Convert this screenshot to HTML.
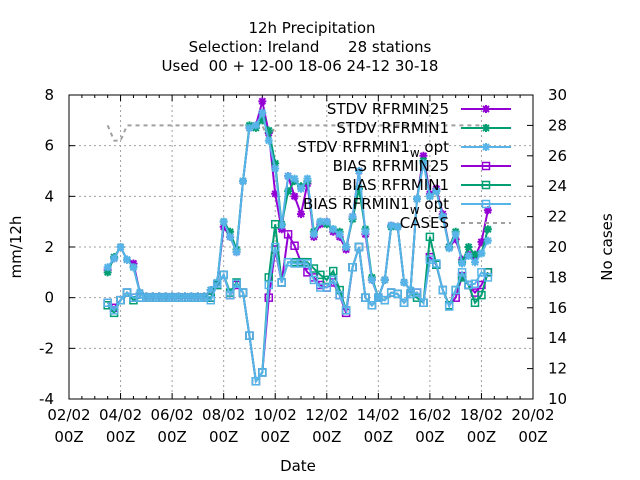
<!DOCTYPE html>
<html><head><meta charset="utf-8"><style>
html,body{margin:0;padding:0;background:#fff;}
svg{display:block;font-family:"DejaVu Sans","Liberation Sans",sans-serif;}
</style></head><body>
<svg id="chart" width="640" height="480" viewBox="0 0 640 480" xmlns="http://www.w3.org/2000/svg">
<rect width="640" height="480" fill="#fff"/>
<g font-size="15" text-anchor="middle" fill="#000">
<text x="312" y="33">12h Precipitation</text>
<text x="310" y="52" xml:space="preserve">Selection: Ireland      28 stations</text>
<text x="300" y="71" xml:space="preserve">Used  00 + 12-00 18-06 24-12 30-18</text>
</g>
<g id="grid"></g>
<g id="axes"></g>
<g id="series"></g>
<g id="legend"></g>
<text x="21" y="247" font-size="15" text-anchor="middle" transform="rotate(-90 21 247)">mm/12h</text>
<text x="612" y="247" font-size="15" text-anchor="middle" transform="rotate(-90 612 247)">No cases</text>
<text x="298" y="471" font-size="15" text-anchor="middle">Date</text>
</svg>
<script>
const startDay = 1.5, stepDay = 0.25;
const xTickLabels = ["02/02","04/02","06/02","08/02","10/02","12/02","14/02","16/02","18/02","20/02"];
const yTicks = [-4,-2,0,2,4,6,8];
const y2Ticks = [10,12,14,16,18,20,22,24,26,28,30];
const stdvRfrmin25 = [1.1,1.55,2.0,1.5,1.35,0.2,0.05,0.05,0.05,0.05,0.05,0.05,0.05,0.05,0.05,0.05,0.3,0.6,2.8,2.4,1.8,4.6,6.7,6.8,7.75,6.5,4.1,2.7,4.8,4.0,3.3,4.5,2.4,2.9,3.0,2.6,2.4,1.9,3.2,5.0,2.5,0.7,0.0,0.7,2.85,2.8,0.6,0.3,3.9,5.6,4.1,4.3,3.3,2.0,2.3,1.5,1.7,1.6,2.2,3.45];
const stdvRfrmin1 = [1.0,1.6,2.0,1.5,1.2,0.2,0.05,0.05,0.05,0.05,0.05,0.05,0.05,0.05,0.05,0.05,0.3,0.6,3.0,2.6,1.9,4.6,6.8,6.7,7.0,6.6,5.3,2.9,4.2,4.6,4.4,4.6,2.6,3.0,2.9,2.7,2.6,2.0,3.1,4.3,2.7,0.8,0.0,0.7,2.8,2.8,0.6,0.3,3.9,5.4,4.0,4.2,3.2,2.0,2.6,1.4,2.0,1.7,1.75,2.7];
const stdvRfrmin1W = [1.2,1.55,2.0,1.5,1.2,0.2,0.05,0.05,0.05,0.05,0.05,0.05,0.05,0.05,0.05,0.05,0.3,0.6,3.0,2.4,1.8,4.6,6.7,6.8,7.3,6.2,5.1,2.85,4.8,4.7,4.3,4.7,2.5,3.0,3.0,2.7,2.5,2.0,3.2,5.0,2.6,0.7,0.0,0.7,2.85,2.8,0.6,0.3,3.9,5.3,4.0,4.2,3.2,1.95,2.5,1.35,1.65,1.4,1.75,2.25];
const biasRfrmin25 = [-0.2,-0.4,-0.1,0.2,0.0,0.0,0.0,0.0,0.0,0.0,0.0,0.0,0.0,0.0,0.0,0.0,0.0,0.5,0.9,0.1,0.5,0.2,-1.5,-3.3,-2.95,0.0,1.9,0.6,2.5,2.05,1.4,1.0,0.8,0.5,0.4,0.6,0.1,-0.6,1.2,2.0,0.0,-0.3,0.0,-0.1,0.2,0.15,-0.2,0.15,0.2,-0.2,1.6,1.3,0.3,-0.3,0.0,0.85,0.5,0.2,0.5,1.0];
const biasRfrmin1 = [-0.3,-0.6,-0.1,0.2,-0.1,0.0,0.0,0.0,0.0,0.0,0.0,0.0,0.0,0.0,0.0,0.0,0.0,0.5,0.9,0.2,0.6,0.2,-1.5,-3.3,-2.95,0.8,2.9,0.6,1.4,1.4,1.4,1.4,1.15,0.9,0.7,1.05,0.3,-0.5,1.2,2.0,0.0,-0.3,0.0,-0.1,0.2,0.15,-0.2,0.15,0.0,-0.2,2.4,1.3,0.3,-0.3,0.3,0.8,0.5,-0.2,0.1,1.0];
const biasRfrmin1W = [-0.2,-0.5,-0.1,0.2,0.0,0.0,0.0,0.0,0.0,0.0,0.0,0.0,0.0,0.0,0.0,0.0,-0.1,0.55,0.9,0.1,0.55,0.2,-1.5,-3.3,-2.95,0.5,2.0,0.6,1.4,1.35,1.35,1.35,0.7,0.4,0.4,0.7,0.1,-0.5,1.2,2.0,0.0,-0.3,0.0,-0.1,0.2,0.15,-0.2,0.15,0.2,-0.2,1.5,1.35,0.3,-0.35,0.3,1.0,0.5,0.55,1.0,0.8];
const cases = [28,27,27,28,28,28,28,28,28,28,28,28,28,28,28,28,28,28,28,28,28,28,28,28,28,27,28,28,28,28,28,28,28,28,28,28,28,28,28,28,28,28,28,28,28,28,28,28,28,28,28,28,28,28,28,28,28,28,28,28];

const NS = "http://www.w3.org/2000/svg";
const L = 69, R = 533, T = 95, B = 399;
const xScale = d => L + (R - L) * d / 18;
const yScale = v => T + (B - T) * (8 - v) / 12;
const y2Scale = v => T + (B - T) * (30 - v) / 20;
function mk(tag, attrs, parent) {
  const e = document.createElementNS(NS, tag);
  for (const k in attrs) e.setAttribute(k, attrs[k]);
  parent.appendChild(e);
  return e;
}
const grid = document.getElementById('grid');
const axes = document.getElementById('axes');
const series = document.getElementById('series');
const legend = document.getElementById('legend');

xTickLabels.forEach((lab, i) => {
  const x = xScale(i * 2);
  if (i > 0 && i < xTickLabels.length - 1) {
    const g = mk('line', {x1: x, x2: x, y1: T, y2: B, stroke: '#a0a0a0', 'stroke-width': 1, 'stroke-dasharray': '2,3'}, grid);
    
    
  }
  const t = mk('text', {x: x, y: 420, 'font-size': 15, 'text-anchor': 'middle'}, axes);
  
  
  t.textContent = lab;
  const t2 = mk('text', {x: x, y: 442, 'font-size': 15, 'text-anchor': 'middle'}, axes);
  
  
  t2.textContent = '00Z';
});
for (let d = 0; d <= 18; d += 0.5) {
  const x = xScale(d);
  const major = (d % 2 === 0);
  const len = major ? 6 : 3;
  mk('line', {x1: x, x2: x, y1: B, y2: B - len, stroke: '#000'}, axes);
  mk('line', {x1: x, x2: x, y1: T, y2: T + len, stroke: '#000'}, axes);
}
yTicks.forEach(v => {
  const y = yScale(v);
  if (v > -4 && v < 8) {
    const g = mk('line', {x1: L, x2: R, y1: y, y2: y, stroke: '#a0a0a0', 'stroke-dasharray': '2,3'}, grid);
    
    
  }
  mk('line', {x1: L, x2: L + 6, y1: y, y2: y, stroke: '#000'}, axes);
  const t = mk('text', {x: 54, y: y + 5, 'font-size': 15, 'text-anchor': 'end'}, axes);
  
  
  t.textContent = v;
});
y2Ticks.forEach(v => {
  const y = y2Scale(v);
  mk('line', {x1: R, x2: R - 6, y1: y, y2: y, stroke: '#000'}, axes);
  const t = mk('text', {x: 548, y: y + 5, 'font-size': 15, 'text-anchor': 'start'}, axes);
  
  
  t.textContent = v;
});
const frame = mk('rect', {x: L, y: T, width: R - L, height: B - T, fill: 'none', stroke: '#000', 'stroke-width': 1}, axes);



function starMarker(g, x, y, c) {
  mk('path', {d: `M${x-4},${y}H${x+4}M${x},${y-4}V${y+4}M${x-3},${y-3}L${x+3},${y+3}M${x-3},${y+3}L${x+3},${y-3}`, stroke: c, 'stroke-width': 2, fill: 'none'}, g);
}
function squareMarker(g, x, y, c) {
  mk('rect', {x: x - 3.5, y: y - 3.5, width: 7, height: 7, stroke: c, 'stroke-width': 1.5, fill: 'none'}, g);
}
const defs = [
  {name: 'stdv-rfrmin25', data: stdvRfrmin25, color: '#9400d3', marker: starMarker, label: 'STDV RFRMIN25'},
  {name: 'stdv-rfrmin1', data: stdvRfrmin1, color: '#009e73', marker: starMarker, label: 'STDV RFRMIN1'},
  {name: 'stdv-rfrmin1-w-opt', data: stdvRfrmin1W, color: '#56b4e9', marker: starMarker, label: 'STDV RFRMIN1', sub: true},
  {name: 'bias-rfrmin25', data: biasRfrmin25, color: '#9400d3', marker: squareMarker, label: 'BIAS RFRMIN25'},
  {name: 'bias-rfrmin1', data: biasRfrmin1, color: '#009e73', marker: squareMarker, label: 'BIAS RFRMIN1'},
  {name: 'bias-rfrmin1-w-opt', data: biasRfrmin1W, color: '#56b4e9', marker: squareMarker, label: 'BIAS RFRMIN1', sub: true}
];
{
  const g = mk('g', {}, series);
  
  
  const pts = cases.map((v, i) => xScale(startDay + i * stepDay) + ',' + y2Scale(v)).join(' ');
  mk('polyline', {points: pts, fill: 'none', stroke: '#a0a0a0', 'stroke-width': 2, 'stroke-dasharray': '4,4'}, g);
}
defs.forEach(s => {
  const g = mk('g', {}, series);
  
  
  const pts = s.data.map((v, i) => xScale(startDay + i * stepDay) + ',' + yScale(v)).join(' ');
  mk('polyline', {points: pts, fill: 'none', stroke: s.color, 'stroke-width': 2}, g);
  s.data.forEach((v, i) => s.marker(g, xScale(startDay + i * stepDay), yScale(v), s.color));
});
const rowY = [109, 128, 147, 166, 185, 204, 223];
defs.forEach((s, i) => {
  const g = mk('g', {}, legend);
  
  
  const y = rowY[i];
  const t = mk('text', {x: 449, y: y + 5, 'font-size': 15, 'text-anchor': 'end'}, g);
  if (s.sub) {
    t.textContent = s.label;
    const ts = mk('tspan', {'font-size': 12, dy: 5}, t); ts.textContent = 'w';
    const ts2 = mk('tspan', {dy: -5}, t); ts2.textContent = ' opt';
  } else t.textContent = s.label;
  mk('line', {x1: 461, x2: 511, y1: y, y2: y, stroke: s.color, 'stroke-width': 2}, g);
  s.marker(g, 486, y, s.color);
});
{
  const g = mk('g', {}, legend);
  
  
  const t = mk('text', {x: 449, y: rowY[6] + 5, 'font-size': 15, 'text-anchor': 'end'}, g);
  t.textContent = 'CASES';
  mk('line', {x1: 461, x2: 511, y1: rowY[6], y2: rowY[6], stroke: '#a0a0a0', 'stroke-width': 2, 'stroke-dasharray': '4,4'}, g);
}
</script>
</body></html>
